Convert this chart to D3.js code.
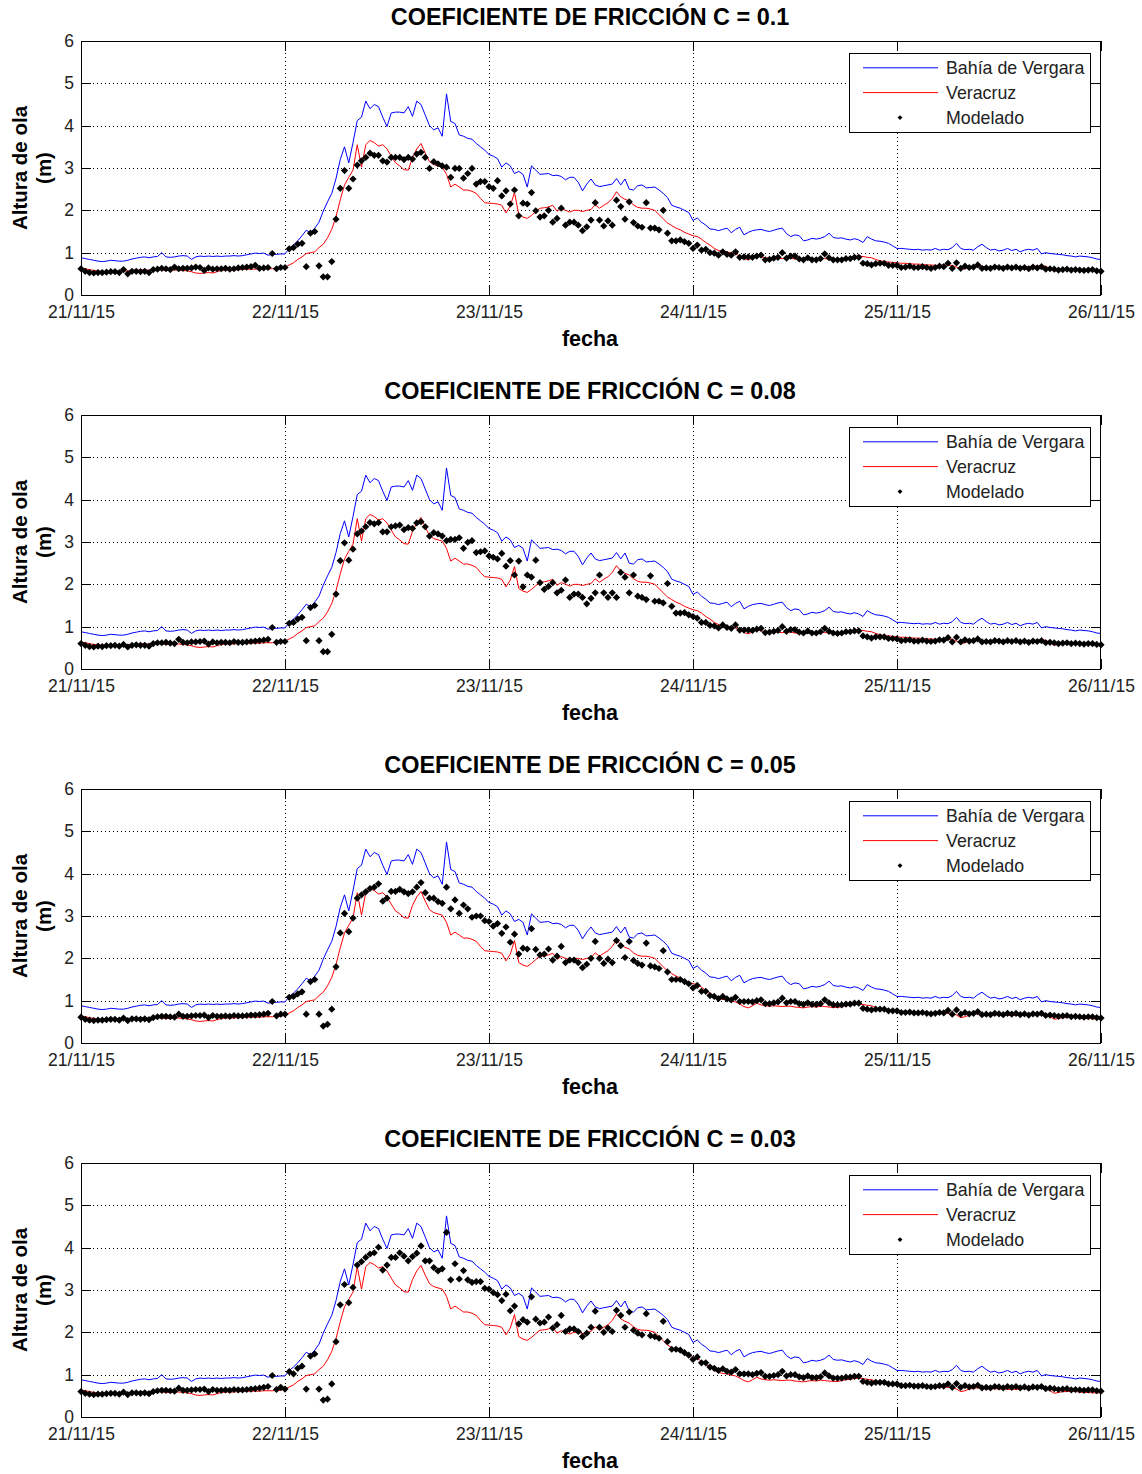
<!DOCTYPE html>
<html>
<head>
<meta charset="utf-8">
<script src="https://cdn.jsdelivr.net/npm/d3@7"></script>
<style>
  body { margin: 0; background: #fff; }
  svg text { font-family: "Liberation Sans", Arial, Helvetica, sans-serif; }
</style>
</head>
<body>
<svg id="chart" width="1142" height="1474"></svg>
<script>
// Half-hourly wave heights (m), 21/11/15 00:00 to 26/11/15 00:00
const startTime = new Date(2015, 10, 21, 0, 0);
const endTime = new Date(2015, 10, 26, 0, 0);
const stepMinutes = 30;

const dayTickLabels = ["21/11/15", "22/11/15", "23/11/15", "24/11/15", "25/11/15", "26/11/15"];
const yTickValues = [0, 1, 2, 3, 4, 5, 6];
const seriesNames = ["Bahía de Vergara", "Veracruz", "Modelado"];
const frictionCoefficients = ["0.1", "0.08", "0.05", "0.03"];

// Observed: Bahía de Vergara
const bahiaVergara = [
  0.88,0.86,0.84,0.82,0.80,0.79,0.80,0.82,0.81,0.80, 0.80,0.82,0.85,0.87,0.89,0.90,0.88,0.90,0.91,1.00,
  0.90,0.89,0.90,0.92,0.93,0.92,0.84,0.90,0.92,0.91, 0.92,0.91,0.92,0.91,0.92,0.92,0.93,0.92,0.93,0.95,
  0.97,0.99,0.98,0.99,0.94,0.96,0.96,0.97,
  0.97,1.10,1.18,1.28,1.40,1.53,1.47,1.58,1.72,1.98, 2.20,2.40,2.75,3.20,3.50,3.12,3.60,4.12,4.20,4.58,
  4.40,4.50,4.45,4.20,3.98,4.30,4.32,4.32,4.30,4.45, 4.22,4.58,4.50,4.25,4.00,3.90,3.95,3.75,4.75,4.10,
  4.05,3.78,3.75,3.70,3.68,3.58,3.50,3.42,
  3.32,3.28,3.22,3.02,3.12,3.05,2.87,2.92,2.85,2.55, 3.05,2.95,2.85,2.86,2.87,2.82,2.83,2.80,2.72,2.78,
  2.78,2.66,2.46,2.62,2.74,2.60,2.56,2.58,2.60,2.62, 2.75,2.60,2.74,2.50,2.48,2.58,2.60,2.53,2.54,2.55,
  2.48,2.40,2.30,2.12,2.08,2.05,2.00,1.95,
  1.76,1.82,1.72,1.65,1.56,1.55,1.52,1.55,1.58,1.47, 1.55,1.60,1.42,1.48,1.52,1.54,1.55,1.52,1.50,1.53,
  1.56,1.58,1.45,1.38,1.42,1.40,1.28,1.30,1.34,1.32, 1.34,1.38,1.46,1.36,1.34,1.35,1.32,1.30,1.33,1.30,
  1.24,1.38,1.32,1.28,1.27,1.25,1.22,1.16,
  1.10,1.10,1.09,1.08,1.07,1.08,1.06,1.07,1.06,1.10, 1.06,1.08,1.07,1.12,1.22,1.10,1.07,1.08,1.06,1.14,
  1.20,1.12,1.06,1.08,1.04,1.06,1.10,1.05,1.08,1.02, 1.06,1.08,1.06,1.10,0.97,1.00,0.98,0.97,0.96,0.95,
  0.93,0.92,0.90,0.92,0.91,0.90,0.88,0.85,0.84
];

// Observed: Veracruz
const veracruz = [
  0.64,0.62,0.60,0.58,0.57,0.56,0.56,0.57,0.57,0.56, 0.56,0.57,0.58,0.58,0.59,0.60,0.58,0.59,0.60,0.59,
  0.58,0.58,0.59,0.59,0.58,0.57,0.55,0.52,0.51,0.52, 0.53,0.52,0.55,0.58,0.59,0.59,0.59,0.60,0.60,0.61,
  0.61,0.61,0.61,0.62,0.62,0.62,0.63,0.63,
  0.66,0.71,0.76,0.84,0.90,0.98,1.00,1.02,1.12,1.20, 1.35,1.55,1.85,2.25,2.60,2.78,2.95,3.55,3.02,3.55,
  3.65,3.60,3.52,3.55,3.45,3.28,3.12,3.05,2.96,2.95, 3.25,3.45,3.58,3.35,3.15,3.08,3.05,3.02,2.85,2.55,
  2.62,2.55,2.48,2.48,2.45,2.40,2.28,2.18,
  2.17,2.16,2.15,2.12,1.94,2.10,2.42,1.90,1.84,1.81, 1.88,1.97,2.05,2.06,2.08,2.12,1.98,2.04,2.00,1.96,
  2.00,2.00,1.97,2.00,2.02,2.13,2.05,2.12,2.18,2.28, 2.44,2.32,2.26,2.22,2.13,2.07,2.05,2.05,2.03,2.00,
  1.90,1.80,1.70,1.64,1.58,1.54,1.48,1.44,
  1.40,1.38,1.32,1.24,1.18,1.10,1.05,1.03,1.02,0.99, 0.97,0.92,0.86,0.83,0.88,0.94,0.90,0.88,0.87,0.88,
  0.87,0.86,0.87,0.87,0.85,0.84,0.83,0.85,0.86,0.85, 0.87,0.86,0.85,0.84,0.84,0.86,0.88,0.89,0.91,0.92,
  0.91,0.89,0.88,0.84,0.81,0.79,0.78,0.77,
  0.76,0.75,0.75,0.74,0.73,0.73,0.72,0.71,0.71,0.70, 0.70,0.71,0.70,0.70,0.66,0.60,0.62,0.66,0.68,0.69,
  0.67,0.66,0.66,0.67,0.66,0.66,0.65,0.66,0.65,0.66, 0.67,0.66,0.67,0.68,0.69,0.68,0.62,0.56,0.58,0.60,
  0.60,0.61,0.60,0.59,0.58,0.58,0.57,0.57,0.57
];

// Model runs, one per friction coefficient
const modeladoC010 = [
  0.62,0.56,0.53,0.52,0.53,0.53,0.54,0.55,0.55,0.53, 0.60,0.50,0.56,0.56,0.55,0.56,0.53,0.60,0.61,0.63,
  0.62,0.60,0.66,0.62,0.63,0.63,0.64,0.66,0.65,0.58, 0.64,0.61,0.62,0.62,0.63,0.61,0.62,0.64,0.65,0.66,
  0.67,0.70,0.63,0.64,0.65,0.98,0.62,0.65,
  0.65,1.09,1.12,1.20,1.22,0.67,1.46,1.50,0.69,0.43, 0.43,0.79,1.79,2.52,2.94,2.52,2.74,3.07,3.17,3.25,
  3.35,3.30,3.30,3.17,3.14,3.25,3.25,3.25,3.20,3.25, 3.21,3.33,3.37,3.25,2.99,3.15,3.10,3.05,3.02,2.78,
  2.99,2.99,2.76,2.87,2.99,2.62,2.68,2.68,
  2.56,2.52,2.70,2.34,2.46,2.15,2.48,1.87,2.17,2.15, 2.42,1.99,1.84,1.87,2.00,1.72,1.81,2.05,1.65,1.72,
  1.72,1.65,1.52,1.61,1.77,2.18,1.77,1.63,1.75,1.65, 2.24,2.09,1.79,2.20,1.71,1.63,1.60,2.18,1.58,1.58,
  1.54,2.00,1.46,1.28,1.28,1.30,1.26,1.22,
  1.10,1.18,1.06,1.08,1.00,0.99,0.94,1.02,0.96,0.94, 1.02,0.89,0.90,0.90,0.89,0.92,0.94,0.83,0.84,0.87,
  0.89,1.00,0.87,0.92,0.92,0.85,0.83,0.88,0.83,0.83, 0.86,0.97,0.88,0.83,0.83,0.83,0.86,0.86,0.89,0.89,
  0.75,0.74,0.71,0.74,0.75,0.75,0.70,0.70,
  0.70,0.65,0.66,0.68,0.65,0.65,0.67,0.65,0.63,0.65, 0.68,0.67,0.75,0.63,0.76,0.63,0.68,0.65,0.66,0.71,
  0.63,0.64,0.63,0.66,0.65,0.63,0.66,0.64,0.66,0.63, 0.65,0.62,0.66,0.64,0.67,0.61,0.62,0.61,0.59,0.60,
  0.61,0.59,0.60,0.59,0.58,0.59,0.60,0.57,0.56
];

const modeladoC008 = [
  0.60,0.56,0.53,0.52,0.54,0.53,0.55,0.55,0.56,0.54, 0.58,0.52,0.56,0.57,0.56,0.56,0.54,0.60,0.62,0.62,
  0.63,0.61,0.60,0.70,0.63,0.62,0.64,0.64,0.65,0.66, 0.59,0.64,0.62,0.63,0.63,0.62,0.65,0.63,0.63,0.64,
  0.65,0.66,0.67,0.68,0.70,0.98,0.63,0.65,
  0.65,1.08,1.10,1.18,1.22,0.67,1.45,1.50,0.67,0.41, 0.41,0.82,1.77,2.56,2.98,2.57,2.83,3.19,3.26,3.36,
  3.46,3.43,3.46,3.24,3.24,3.36,3.38,3.40,3.29,3.34, 3.32,3.45,3.48,3.36,3.14,3.22,3.19,3.14,3.03,3.06,
  3.06,3.10,2.85,2.99,3.03,2.75,2.77,2.79,
  2.67,2.64,2.60,2.73,2.43,2.56,2.22,2.55,1.94,2.22, 2.17,2.57,2.04,1.88,1.95,2.04,1.80,1.86,2.10,1.69,
  1.77,1.77,1.69,1.54,1.67,1.80,2.22,1.80,1.69,1.80, 1.69,2.28,2.17,1.80,2.22,1.72,1.69,1.64,2.20,1.60,
  1.60,1.56,2.02,1.48,1.32,1.32,1.33,1.28,
  1.24,1.20,1.10,1.10,1.03,1.02,0.97,1.04,0.98,0.96, 1.04,0.92,0.92,0.92,0.91,0.94,0.96,0.86,0.87,0.89,
  0.91,1.00,0.89,0.93,0.93,0.87,0.85,0.90,0.85,0.85, 0.88,0.96,0.89,0.85,0.84,0.85,0.88,0.88,0.90,0.90,
  0.78,0.76,0.73,0.76,0.76,0.76,0.72,0.72,
  0.71,0.67,0.68,0.69,0.66,0.66,0.68,0.66,0.65,0.66, 0.69,0.68,0.74,0.64,0.75,0.64,0.69,0.66,0.67,0.71,
  0.64,0.65,0.64,0.67,0.66,0.64,0.67,0.65,0.67,0.64, 0.66,0.63,0.66,0.65,0.67,0.62,0.63,0.62,0.60,0.61,
  0.62,0.60,0.61,0.60,0.59,0.60,0.60,0.58,0.57
];

const modeladoC005 = [
  0.61,0.56,0.54,0.53,0.54,0.54,0.55,0.56,0.56,0.54, 0.59,0.53,0.57,0.57,0.56,0.57,0.55,0.60,0.62,0.63,
  0.63,0.62,0.61,0.68,0.63,0.63,0.64,0.65,0.65,0.66, 0.60,0.65,0.63,0.63,0.64,0.63,0.65,0.64,0.64,0.65,
  0.66,0.66,0.67,0.68,0.70,0.98,0.64,0.68,
  0.68,1.08,1.10,1.16,1.21,0.68,1.45,1.50,0.68,0.40, 0.44,0.80,1.80,2.60,3.06,2.63,2.95,3.42,3.50,3.57,
  3.65,3.68,3.76,3.35,3.42,3.58,3.58,3.63,3.57,3.53, 3.57,3.68,3.79,3.55,3.42,3.42,3.34,3.30,3.68,3.17,
  3.38,3.06,3.26,3.17,2.97,3.00,3.00,2.89,
  2.87,2.76,2.82,2.59,2.74,2.38,2.57,2.10,2.24,2.22, 2.70,2.21,2.08,2.10,2.22,1.96,2.05,2.28,1.90,1.96,
  1.96,1.90,1.78,1.86,2.00,2.40,2.00,1.88,1.98,1.90, 2.42,2.30,2.02,2.40,1.95,1.88,1.84,2.36,1.82,1.80,
  1.76,2.18,1.68,1.50,1.50,1.50,1.45,1.40,
  1.30,1.36,1.22,1.22,1.12,1.10,1.05,1.10,1.04,1.02, 1.08,0.98,0.98,0.98,0.97,1.00,1.02,0.93,0.93,0.95,
  0.97,1.06,0.95,0.98,0.98,0.93,0.91,0.95,0.91,0.91, 0.93,1.02,0.95,0.90,0.90,0.90,0.92,0.92,0.94,0.94,
  0.82,0.80,0.78,0.80,0.80,0.80,0.76,0.76,
  0.76,0.72,0.72,0.73,0.71,0.71,0.72,0.70,0.69,0.70, 0.72,0.71,0.77,0.68,0.78,0.68,0.72,0.69,0.70,0.74,
  0.67,0.68,0.67,0.70,0.69,0.67,0.70,0.68,0.70,0.67, 0.69,0.66,0.69,0.68,0.70,0.65,0.66,0.65,0.63,0.64,
  0.65,0.62,0.63,0.62,0.61,0.62,0.62,0.60,0.59
];

const modeladoC003 = [
  0.60,0.56,0.54,0.53,0.54,0.54,0.55,0.56,0.56,0.54, 0.59,0.53,0.57,0.57,0.56,0.57,0.55,0.60,0.62,0.63,
  0.63,0.62,0.61,0.68,0.63,0.63,0.64,0.65,0.65,0.66, 0.60,0.65,0.63,0.63,0.64,0.63,0.65,0.64,0.64,0.65,
  0.66,0.67,0.68,0.70,0.72,0.98,0.65,0.70,
  0.66,1.07,1.02,1.15,1.20,0.66,1.44,1.49,0.66,0.40, 0.42,0.78,1.78,2.65,3.13,2.70,3.06,3.59,3.67,3.77,
  3.85,3.88,4.01,3.47,3.59,3.77,3.77,3.88,3.80,3.69, 3.79,3.87,4.04,3.69,3.69,3.53,3.45,3.50,4.36,3.24,
  3.62,3.26,3.46,3.24,3.18,3.20,3.20,3.04,
  3.02,2.94,2.89,2.75,2.90,2.51,2.62,2.20,2.30,2.24, 2.84,2.31,2.22,2.24,2.36,2.10,2.18,2.40,2.02,2.08,
  2.08,2.02,1.90,1.98,2.12,2.50,2.12,2.00,2.10,2.02, 2.52,2.40,2.12,2.48,2.05,1.98,1.94,2.44,1.92,1.90,
  1.86,2.26,1.78,1.60,1.60,1.58,1.52,1.46,
  1.36,1.42,1.28,1.28,1.18,1.15,1.10,1.14,1.08,1.06, 1.12,1.02,1.02,1.02,1.00,1.03,1.05,0.96,0.96,0.98,
  1.00,1.08,0.97,1.00,1.00,0.95,0.93,0.97,0.93,0.93, 0.95,1.04,0.97,0.92,0.92,0.92,0.94,0.94,0.96,0.96,
  0.84,0.82,0.80,0.82,0.82,0.82,0.78,0.78,
  0.78,0.74,0.74,0.75,0.73,0.73,0.74,0.72,0.71,0.72, 0.74,0.73,0.78,0.70,0.79,0.70,0.74,0.71,0.72,0.75,
  0.69,0.70,0.69,0.72,0.71,0.69,0.72,0.70,0.72,0.69, 0.71,0.68,0.71,0.70,0.72,0.67,0.68,0.67,0.65,0.66,
  0.67,0.64,0.65,0.64,0.63,0.64,0.64,0.62,0.61
];

const modelRuns = [modeladoC010, modeladoC008, modeladoC005, modeladoC003];

// ---- layout ----
const svg = d3.select("#chart");
const plotLeft = 81, plotRight = 1101;
const plotHeight = 254;
const panelTop0 = 41, panelStep = 374;
const lineColors = { bahia: "#0000ff", veracruz: "#ff0000", model: "#000000" };

const timeOf = i => d3.timeMinute.offset(startTime, i * stepMinutes);
const dayDates = d3.timeDay.range(startTime, d3.timeDay.offset(endTime, 1));
const fmtDay = d3.timeFormat("%d/%m/%y");

const x = d3.scaleTime().domain([startTime, endTime]).range([plotLeft, plotRight]);

frictionCoefficients.forEach((coef, k) => {
  const top = panelTop0 + k * panelStep;
  const bottom = top + plotHeight;
  const y = d3.scaleLinear().domain([0, 6]).range([bottom, top]);
  const g = svg.append("g");

  // dotted grid
  const grid = g.append("g").attr("shape-rendering", "crispEdges");
  grid.selectAll("line.hgrid")
    .data(yTickValues.filter(v => v > 0 && v < 6))
    .join("line")
    .attr("x1", plotLeft).attr("x2", plotRight)
    .attr("y1", d => Math.round(y(d)) + 0.5).attr("y2", d => Math.round(y(d)) + 0.5)
    .attr("stroke", "#000").attr("stroke-dasharray", "1,3");
  grid.selectAll("line.vgrid")
    .data(dayDates.slice(1, -1))
    .join("line")
    .attr("x1", d => Math.round(x(d)) + 0.5).attr("x2", d => Math.round(x(d)) + 0.5)
    .attr("y1", top).attr("y2", bottom)
    .attr("stroke", "#000").attr("stroke-dasharray", "1,3");

  // observed lines
  const line = d3.line().x((d, i) => x(timeOf(i))).y(d => y(d));
  g.append("path").datum(bahiaVergara).attr("d", line)
    .attr("fill", "none").attr("stroke", lineColors.bahia).attr("stroke-width", 1);
  g.append("path").datum(veracruz).attr("d", line)
    .attr("fill", "none").attr("stroke", lineColors.veracruz).attr("stroke-width", 1);

  // model markers
  const diamond = d3.symbol().type(d3.symbolSquare).size(26)();
  g.append("g").selectAll("path")
    .data(modelRuns[k])
    .join("path")
    .attr("d", diamond)
    .attr("transform", (d, i) => `translate(${x(timeOf(i))},${y(d)}) rotate(45)`)
    .attr("fill", lineColors.model);

  // axes with inward ticks on all four sides
  const axisStyle = sel => {
    sel.attr("shape-rendering", "crispEdges");
    sel.select(".domain").remove();
    sel.selectAll(".tick line").attr("stroke", "#000");
    sel.selectAll(".tick text")
      .attr("font-family", "'Liberation Sans', Arial, sans-serif")
      .attr("font-size", 17.5).attr("fill", "#222");
  };
  g.append("g").attr("transform", `translate(0,${bottom})`)
    .call(d3.axisBottom(x).tickValues(dayDates).tickFormat(fmtDay)
      .tickSizeInner(-10).tickSizeOuter(0).tickPadding(11))
    .call(axisStyle);
  g.append("g").attr("transform", `translate(0,${top})`)
    .call(d3.axisTop(x).tickValues(dayDates).tickFormat("")
      .tickSizeInner(-10).tickSizeOuter(0))
    .call(axisStyle);
  g.append("g").attr("transform", `translate(${plotLeft},0)`)
    .call(d3.axisLeft(y).tickValues(yTickValues).tickFormat(d3.format("d"))
      .tickSizeInner(-10).tickSizeOuter(0).tickPadding(7))
    .call(axisStyle);
  g.append("g").attr("transform", `translate(${plotRight},0)`)
    .call(d3.axisRight(y).tickValues(yTickValues).tickFormat("")
      .tickSizeInner(-10).tickSizeOuter(0))
    .call(axisStyle);

  // frame
  g.append("rect")
    .attr("x", plotLeft + 0.5).attr("y", top + 0.5)
    .attr("width", plotRight - plotLeft - 1).attr("height", plotHeight)
    .attr("fill", "none").attr("stroke", "#000").attr("stroke-width", 1)
    .attr("shape-rendering", "crispEdges");

  // title and axis labels
  g.append("text")
    .attr("x", 590).attr("y", top - 24)
    .attr("text-anchor", "middle").attr("dominant-baseline", "central")
    .attr("font-size", 23.4).attr("font-weight", "bold").attr("fill", "#000")
    .text(`COEFICIENTE DE FRICCIÓN C = ${coef}`);
  g.append("text")
    .attr("x", 590).attr("y", bottom + 44)
    .attr("text-anchor", "middle").attr("dominant-baseline", "central")
    .attr("font-size", 21.5).attr("font-weight", "bold").attr("fill", "#000")
    .text("fecha");
  const midY = (top + bottom) / 2;
  [["Altura de ola", 19], ["(m)", 43]].forEach(([txt, cx]) => {
    g.append("text")
      .attr("transform", `translate(${cx},${midY}) rotate(-90)`)
      .attr("text-anchor", "middle").attr("dominant-baseline", "central")
      .attr("font-size", 20.5).attr("font-weight", "bold").attr("fill", "#000")
      .text(txt);
  });

  // legend
  const lg = g.append("g").attr("transform", `translate(849,${top + 12})`);
  lg.append("rect").attr("x", 0.5).attr("y", 0.5).attr("width", 241).attr("height", 79)
    .attr("fill", "#fff").attr("stroke", "#000").attr("shape-rendering", "crispEdges");
  const rowY = [14.8, 39.6, 64.6];
  lg.append("line").attr("x1", 14).attr("x2", 89).attr("y1", rowY[0]).attr("y2", rowY[0])
    .attr("stroke", lineColors.bahia);
  lg.append("line").attr("x1", 14).attr("x2", 89).attr("y1", rowY[1]).attr("y2", rowY[1])
    .attr("stroke", lineColors.veracruz);
  lg.append("path").attr("d", d3.symbol().type(d3.symbolSquare).size(12)())
    .attr("transform", `translate(51,${rowY[2]}) rotate(45)`).attr("fill", lineColors.model);
  lg.selectAll("text.entry").data(seriesNames).join("text")
    .attr("x", 97).attr("y", (d, i) => rowY[i])
    .attr("dominant-baseline", "central")
    .attr("font-size", 17.8).attr("fill", "#222")
    .text(d => d);
});
</script>
</body>
</html>
